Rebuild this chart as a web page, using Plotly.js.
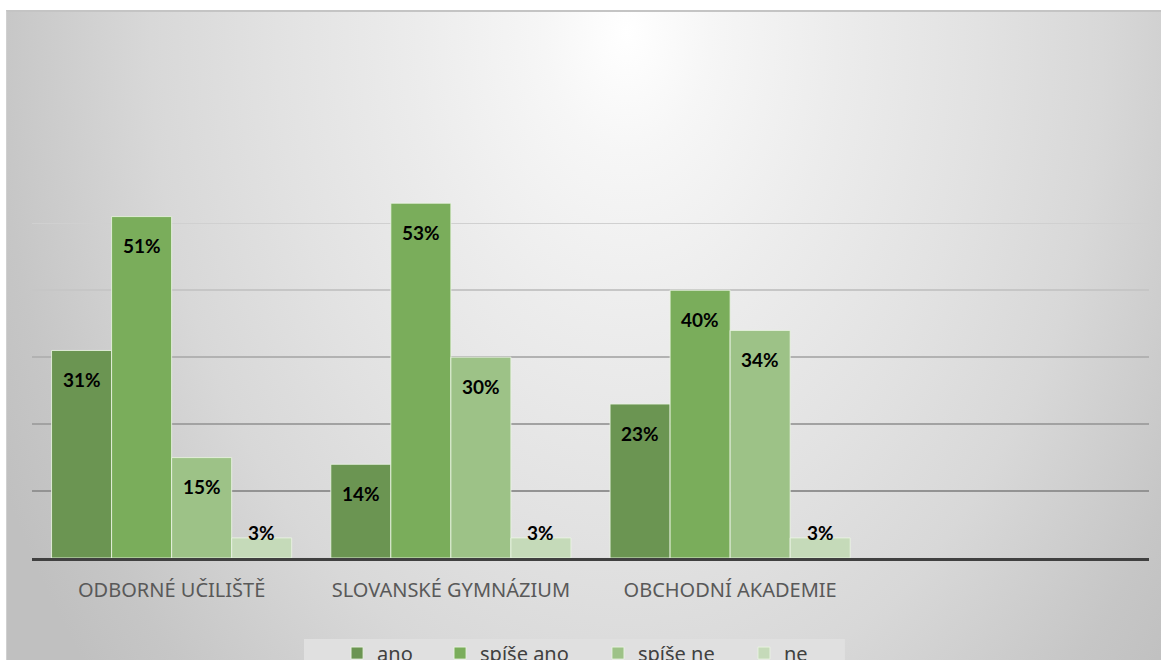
<!DOCTYPE html>
<html>
<head>
<meta charset="utf-8">
<script src="https://cdn.plot.ly/plotly-3.0.1.min.js"></script>
<style>
  html, body { margin:0; padding:0; background:#ffffff; overflow:hidden; width:1161px; height:660px; }
  #bg { position:absolute; left:6px; top:10px; width:1155px; height:660px;
        border-top:2px solid #c4c4c4; border-left:1px solid #d0d0d0;
        background: radial-gradient(ellipse 700px 1000px at 620px 20px,
          #ffffff 0%, #f6f6f6 12%, #ececec 30%, #e2e2e2 50%, #d8d8d8 68%, #c6c6c6 90%, #c0c0c0 100%); }
  #chart { position:absolute; left:0; top:0; width:1161px; height:690px; }
</style>
</head>
<body>
<div id="bg"></div>
<div id="chart"></div>
<script>
const categories = ["ODBORNÉ UČILIŠTĚ", "SLOVANSKÉ GYMNÁZIUM", "OBCHODNÍ AKADEMIE"];
const seriesNames = ["ano", "spíše ano", "spíše ne", "ne"];
const ano = [0.31, 0.14, 0.23];
const spiseAno = [0.51, 0.53, 0.40];
const spiseNe = [0.15, 0.30, 0.34];
const ne = [0.03, 0.03, 0.03];
const seriesValues = [ano, spiseAno, spiseNe, ne];
const colors = ["#6b9552", "#7aad5b", "#9dc287", "#c5dab9"];

const gridValues = [0.1, 0.2, 0.3, 0.4, 0.5, 0.6];
const gridColors = ["#939393", "#a2a2a2", "#b2b2b2", "#c6c6c6", "#d0d0d0", "#d6d6d6"];
const yRange = [0, 0.6005];

// layout: paper-x position of each legend entry
const legendX = [0.2731, 0.3653, 0.5067, 0.6374];

const BARGAP = 0.14;
const nSeries = seriesValues.length;
const barW = (1 - BARGAP) / nSeries;

const legendIds = seriesNames.map((n, i) => i === 0 ? "legend" : "legend" + (i + 1));

const traces = seriesValues.map((vals, i) => ({
  type: "bar",
  name: seriesNames[i],
  legend: legendIds[i],
  x: categories,
  y: vals,
  marker: { color: colors[i], line: { color: "rgba(235,245,228,0.85)", width: 1 } },
  hoverinfo: "skip"
}));

// empty helper traces so that each gridline axis is drawn
gridValues.forEach((gv, k) => {
  if (k === 0) return;
  traces.push({
    type: "scatter", mode: "markers", x: [], y: [],
    xaxis: "x", yaxis: "y" + (k + 1),
    showlegend: false, hoverinfo: "skip"
  });
});

const annotations = [];
seriesValues.forEach((vals, i) => {
  vals.forEach((v, j) => {
    const inside = v >= 0.05;
    annotations.push({
      x: j + (i - (nSeries - 1) / 2) * barW,
      y: v,
      xref: "x", yref: "y",
      text: Math.round(v * 100) + "%",
      showarrow: false,
      yanchor: "middle",
      yshift: inside ? -29 : 5,
      font: { family: "Lato, 'Open Sans', sans-serif", size: 19, color: "#000000", weight: "bold" }
    });
  });
});

const layout = {
  width: 1161, height: 690,
  margin: { l: 32, r: 12, t: 156, b: 132, pad: 0 },
  paper_bgcolor: "rgba(0,0,0,0)",
  plot_bgcolor: "rgba(0,0,0,0)",
  barmode: "group",
  bargap: BARGAP,
  bargroupgap: 0,
  showlegend: true,
  xaxis: {
    type: "category",
    range: [-0.5, 3.5],
    showline: true, linecolor: "#404040", linewidth: 3,
    showgrid: false, zeroline: false,
    ticks: "",
    ticklabelstandoff: 12,
    tickfont: { family: "'Noto Sans', 'Open Sans', sans-serif", size: 20, color: "#595959" },
    fixedrange: true
  },
  shapes: [{
    type: "rect", xref: "paper", yref: "paper", layer: "below",
    x0: 0.2435, x1: 0.7278, y0: -0.2015, y1: -0.36,
    fillcolor: "#e0e0e0", line: { width: 0 }
  }],
  annotations: annotations
};

legendIds.forEach((id, i) => {
  layout[id] = {
    orientation: "h",
    x: legendX[i], xanchor: "left",
    y: -0.188, yanchor: "top",
    bgcolor: "rgba(0,0,0,0)",
    borderwidth: 0,
    font: { family: "'Noto Sans', 'Open Sans', sans-serif", size: 20, color: "#404040" }
  };
});

gridValues.forEach((gv, k) => {
  const key = k === 0 ? "yaxis" : "yaxis" + (k + 1);
  const ax = {
    range: yRange,
    tickmode: "array",
    tickvals: [gv],
    showticklabels: false,
    ticks: "",
    showgrid: true,
    gridcolor: gridColors[k],
    gridwidth: 1.5,
    zeroline: false,
    showline: false,
    fixedrange: true
  };
  if (k > 0) { ax.overlaying = "y"; ax.anchor = "x"; }
  layout[key] = ax;
});

Plotly.newPlot("chart", traces, layout, { displayModeBar: false, staticPlot: true });
</script>
</body>
</html>
